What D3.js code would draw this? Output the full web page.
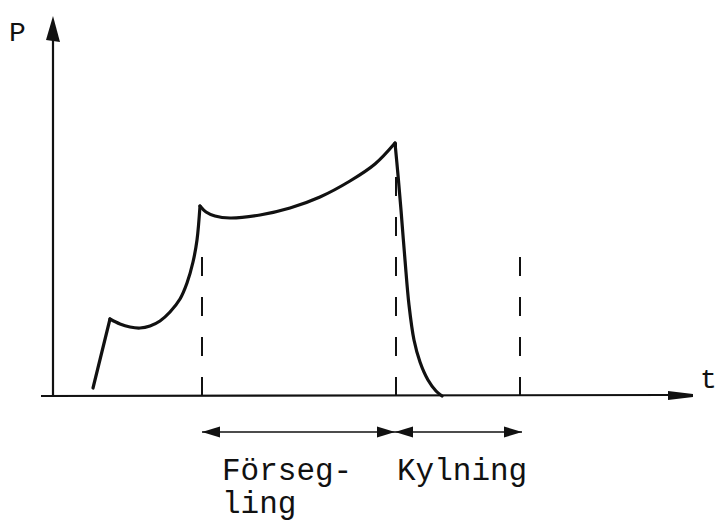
<!DOCTYPE html>
<html>
<head>
<meta charset="utf-8">
<script src="https://cdn.jsdelivr.net/npm/d3@7"></script>
<style>
  html, body { margin: 0; padding: 0; background: #fff; }
  svg { display: block; }
</style>
</head>
<body>
<script>
// pressure curve, split at its corners
var riseT = [40, 57];
var riseP = [8, 77];
var fillT = [57, 67, 77, 87, 97, 107, 117, 127, 134, 140, 144, 147];
var fillP = [77, 72, 69, 68, 70, 75, 84, 97, 113, 134, 156, 190];
var sealT = [147, 153, 162, 177, 207, 237, 267, 297, 322, 342];
var sealP = [190, 184, 180, 178, 181, 188, 199, 215, 232, 253];
var coolT = [342, 345, 348, 352, 356, 361, 367, 375, 383, 389];
var coolP = [253, 221, 186, 136, 91, 56, 34, 16, 5, 0];

// dashed markers
var markerT = [149, 343, 467];
var markerTop = [152, 253, 148];

// phases below the axis
var phaseLabels = [['Förseg-', 'ling'], ['Kylning']];
var phaseStart = [149, 342];
var phaseEnd = [342, 469];

var width = 717, height = 524;
var ink = '#111';

var x = d3.scaleLinear().domain([0, 640]).range([53, 693]);
var y = d3.scaleLinear().domain([0, 380]).range([396, 16]);

var svg = d3.select('body').append('svg')
    .attr('width', width)
    .attr('height', height);

// filled head drawn in user space, no marker scaling
svg.append('defs').append('marker')
    .attr('id', 'head')
    .attr('viewBox', '0 -6 18 12')
    .attr('refX', 18).attr('refY', 0)
    .attr('markerWidth', 18).attr('markerHeight', 12)
    .attr('markerUnits', 'userSpaceOnUse')
    .attr('orient', 'auto-start-reverse')
    .append('path')
    .attr('d', 'M0,-5.5L18,0L0,5.5Z')
    .attr('fill', ink);

// axes
svg.append('line')
    .attr('x1', 41).attr('y1', y(0))
    .attr('x2', x(615)).attr('y2', y(0) - 1)
    .attr('stroke', ink).attr('stroke-width', 2.2);
svg.append('path')
    .attr('d', `M${x(615)},${y(0) - 5}L${x(640)},${y(0) - 2}L${x(640)},${y(0) + 1}L${x(615)},${y(0) + 4}Z`)
    .attr('fill', ink);

svg.append('line')
    .attr('x1', x(0)).attr('y1', y(0) + 1)
    .attr('x2', x(0)).attr('y2', y(360))
    .attr('stroke', ink).attr('stroke-width', 2.2);
svg.append('path')
    .attr('d', `M${x(0) - 7},${y(356)}L${x(0)},${y(380)}L${x(0) + 7},${y(354)}Z`)
    .attr('fill', ink);

// dashed markers
svg.selectAll('.marker')
    .data(markerT)
    .enter()
    .append('line')
    .attr('class', 'marker')
    .attr('x1', (d) => x(d)).attr('y1', y(0))
    .attr('x2', (d) => x(d)).attr('y2', (d, i) => y(markerTop[i]))
    .attr('stroke', ink)
    .attr('stroke-width', 2)
    .attr('stroke-dasharray', '19,21');

// curve
var line = d3.line()
    .x((d) => x(d[0]))
    .y((d) => y(d[1]))
    .curve(d3.curveCatmullRom.alpha(0.5));

var segments = [[riseT, riseP], [fillT, fillP], [sealT, sealP], [coolT, coolP]];
svg.selectAll('.seg')
    .data(segments)
    .enter()
    .append('path')
    .attr('class', 'seg')
    .attr('d', (s) => line(s[0].map((t, i) => [t, s[1][i]])))
    .attr('fill', 'none')
    .attr('stroke', ink)
    .attr('stroke-width', 3.2)
    .attr('stroke-linejoin', 'round')
    .attr('stroke-linecap', 'round');

// phase arrows
var arrowY = 432;
svg.selectAll('.phase')
    .data(phaseStart)
    .enter()
    .append('line')
    .attr('class', 'phase')
    .attr('x1', (d) => x(d)).attr('y1', arrowY)
    .attr('x2', (d, i) => x(phaseEnd[i])).attr('y2', arrowY)
    .attr('stroke', ink)
    .attr('stroke-width', 1.5)
    .attr('marker-start', 'url(#head)')
    .attr('marker-end', 'url(#head)');

// labels
var font = '"Liberation Mono", "DejaVu Sans Mono", monospace';
var labels = svg.selectAll('.label')
    .data(phaseLabels)
    .enter()
    .append('text')
    .attr('class', 'label')
    .attr('font-family', font)
    .attr('font-size', 31)
    .attr('fill', ink);
labels.selectAll('tspan')
    .data((d, i) => d.map((s) => ({ s: s, i: i })))
    .enter()
    .append('tspan')
    .attr('x', (d) => x(phaseStart[d.i]) + (d.i === 0 ? 20 : 2))
    .attr('y', (d, j) => 480 + j * 33)
    .text((d) => d.s);

svg.append('text')
    .attr('x', 9).attr('y', 41)
    .attr('font-family', font)
    .attr('font-size', 28)
    .attr('fill', ink)
    .text('P');
svg.append('text')
    .attr('x', 700).attr('y', 388)
    .attr('font-family', font)
    .attr('font-size', 28)
    .attr('fill', ink)
    .text('t');
</script>
</body>
</html>
